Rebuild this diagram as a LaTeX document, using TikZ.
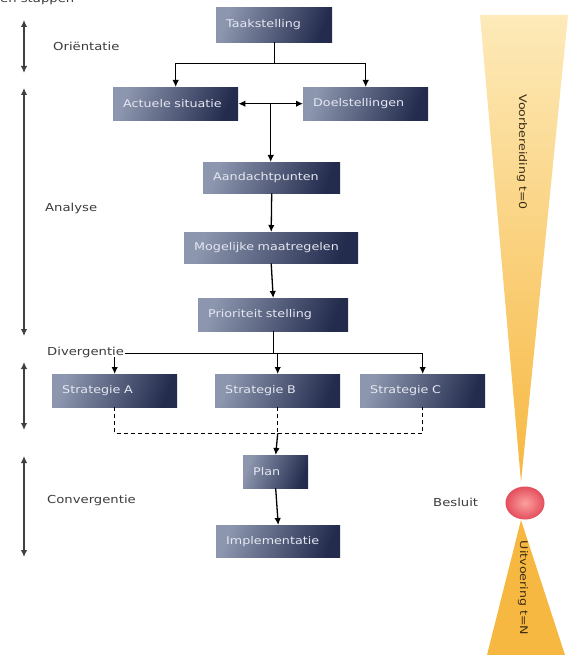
\documentclass[tikz,border=0pt]{standalone}
\usepackage{fontspec}
\setmainfont[FakeStretch=1.2]{DejaVu Sans}
\usetikzlibrary{arrows.meta,calc}

\definecolor{boxlight}{RGB}{140,150,174}
\definecolor{boxdark}{RGB}{36,44,78}
\definecolor{boxtext}{RGB}{228,232,242}
\definecolor{funtop}{RGB}{253,234,185}
\definecolor{funmidv}{RGB}{251,218,145}
\definecolor{funbot}{RGB}{247,184,66}
\definecolor{funmid}{RGB}{252,212,125}
\definecolor{ballin}{RGB}{252,160,160}
\definecolor{ballout}{RGB}{228,78,92}
\definecolor{labeltext}{RGB}{60,60,60}
\definecolor{funneltext}{RGB}{60,45,20}

\begin{document}
\begin{tikzpicture}[x=1pt,y=-1pt,
  box/.style={anchor=north west, inner xsep=10pt, inner ysep=0pt, align=left,
    font=\fontsize{10.6}{12}\selectfont, text=boxtext,
    left color=boxlight, right color=boxdark, shading angle=70},
  link/.style={draw=black, line width=1.3pt, -{Latex[length=7pt,width=6.5pt]}},
  twoway/.style={draw=black, line width=1.3pt, {Latex[length=7pt,width=6.5pt]}-{Latex[length=7pt,width=6.5pt]}},
  phase/.style={draw=black!75, line width=1.8pt, {Latex[length=7pt,width=6.5pt]}-{Latex[length=7pt,width=6.5pt]}},
  dashlink/.style={draw=black, line width=1.2pt, dash pattern=on 4pt off 3pt},
  lbl/.style={anchor=west, inner sep=0pt, font=\fontsize{11}{13}\selectfont, text=labeltext},
  funlbl/.style={inner sep=0pt, rotate=-90, font=\fontsize{10.5}{12}\selectfont, text=funneltext}]

% canvas
\useasboundingbox (0,0) rectangle (571,655);
\fill[white] (0,0) rectangle (571,655);

% heading, partly above the page edge
\node[anchor=base west, inner sep=0pt, font=\fontsize{11}{13}\selectfont, text=labeltext] (kop) at (0,3) {en stappen};

% funnel: preparation narrowing to the decision, execution widening below
\shade[top color=funtop, middle color=funmidv, bottom color=funbot] (480,15) -- (568,15) -- (521,482) -- cycle;
\shade[left color=funbot, middle color=funmid, right color=funbot] (521,520) -- (565,655) -- (487,655) -- cycle;
\shade[inner color=ballin, outer color=ballout] (525,503) ellipse [x radius=19.5, y radius=16.5];
\node[funlbl] (voorb) at (522,152) {Voorbereiding t=0};
\node[funlbl] (uitv) at (523,588) {Uitvoering t=N};
\node[lbl] (besluit) at (433,502) {Besluit};

% phase markers on the left
\coordinate (o1) at (24,20);  \coordinate (o2) at (24,73);
\coordinate (a1) at (24,88);  \coordinate (a2) at (24,336);
\coordinate (d1) at (24,362); \coordinate (d2) at (24,430);
\coordinate (c1) at (24,456); \coordinate (c2) at (24,557);
\draw[phase] (o1) -- (o2);
\draw[phase] (a1) -- (a2);
\draw[phase] (d1) -- (d2);
\draw[phase] (c1) -- (c2);
\node[lbl] (orient) at (53,46) {Oriëntatie};
\node[lbl] (analyse) at (45,208) {Analyse};
\node[lbl] (conv) at (47,500) {Convergentie};

% process steps
\node[box, text width=96pt,  minimum height=35pt] (taak)    at (216,7)   {Taakstelling};
\node[box, text width=105pt, minimum height=33pt] (actueel) at (113,87)  {Actuele situatie};
\node[box, text width=105pt, minimum height=33pt] (doel)    at (303,87)  {Doelstellingen};
\node[box, text width=117pt, minimum height=31pt] (aand)    at (203,162) {Aandachtpunten};
\node[box, text width=154pt, minimum height=31pt] (mog)     at (184,232) {Mogelijke maatregelen};
\node[box, text width=130pt, minimum height=33pt] (prio)    at (198,298) {Prioriteit stelling};
\node[box, text width=105pt, minimum height=33pt] (sA)      at (52,374)  {Strategie A};
\node[box, text width=105pt, minimum height=33pt] (sB)      at (215,374) {Strategie B};
\node[box, text width=105pt, minimum height=33pt] (sC)      at (360,374) {Strategie C};
\node[box, text width=45pt,  minimum height=33pt] (plan)    at (243,455) {Plan};
\node[box, text width=104pt, minimum height=32pt] (impl)    at (216,525) {Implementatie};

% task splits into current situation and goals
\coordinate (fork1) at ($(taak.south)+(0,21)$);
\draw[line width=1.3pt] (taak.south) -- (fork1);
\draw[link] (fork1) -| (actueel.north);
\draw[link] (fork1) -| (doel.north);

\draw[twoway] (actueel.east) -- (doel.west);
\coordinate (mid) at ($(actueel.east)!0.5!(doel.west)$);
\draw[link] (mid) -- (mid |- aand.north);

\draw[link] (aand.south) -- (mog.north);
\draw[link] (mog.south) -- (prio.north);

% branching into the strategies; label drawn over the branch line
\coordinate (fork2) at ($(prio.south)+(0,22)$);
\draw[line width=1.3pt] (prio.south) -- (fork2);
\draw[link] (fork2) -| (sA.north);
\draw[link] (fork2) -| (sB.north);
\draw[link] (fork2) -| (sC.north);
\node[lbl, fill=white, inner xsep=1pt] (div) at (46,352) {Divergentie};

% strategies merge into the plan
\coordinate (join) at ($(sB.south)+(0,26)$);
\draw[dashlink] (sA.south) |- (join) -| (sC.south);
\draw[dashlink] (sB.south) -- (join);
\draw[link] (join) -- (plan.north);
\draw[link] (plan.south) -- (impl.north);

\end{tikzpicture}
\end{document}
